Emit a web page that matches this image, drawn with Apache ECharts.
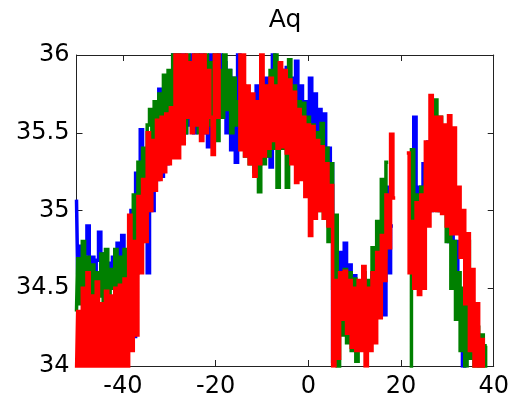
<!DOCTYPE html>
<html>
<head>
<meta charset="utf-8">
<script src="https://cdn.jsdelivr.net/npm/echarts@6/dist/echarts.min.js"></script>
<style>
html,body{margin:0;padding:0;background:#fff;}
#c{width:512px;height:405px;}
</style>
</head>
<body>
<div id="c"></div>
<script>
var title = 'Aq';
var xTicks = [-40, -20, 0, 20, 40];
var yTicks = [34, 34.5, 35, 35.5, 36];

var xs = [
-50,-49.5,-49,-48.5,-48,-47.5,-47,-46.5,-46,-45.5,-45,-44.5,-44,-43.5,-43,-42.5,-42,-41.5,-41,-40.5,
-40,-39.5,-39,-38.5,-38,-37.5,-37,-36.5,-36,-35.5,-35,-34.5,-34,-33.5,-33,-32.5,-32,-31.5,-31,-30.5,
-30,-29.5,-29,-28.5,-28,-27.5,-27,-26.5,-26,-25.5,-25,-24.5,-24,-23.5,-23,-22.5,-22,-21.5,-21,-20.5,
-20,-19.5,-19,-18.5,-18,-17.5,-17,-16.5,-16,-15.5,-15,-14.5,-14,-13.5,-13,-12.5,-12,-11.5,-11,-10.5,
-10,-9.5,-9,-8.5,-8,-7.5,-7,-6.5,-6,-5.5,-5,-4.5,-4,-3.5,-3,-2.5,-2,-1.5,-1,-0.5,
0,0.5,1,1.5,2,2.5,3,3.5,4,4.5,5,5.5,6,6.5,7,7.5,8,8.5,9,9.5,
10,10.5,11,11.5,12,12.5,13,13.5,14,14.5,15,15.5,16,16.5,17,17.5,18,18.5,19,19.5,
20,20.5,21,21.5,22,22.5,23,23.5,24,24.5,25,25.5,26,26.5,27,27.5,28,28.5,29,29.5,
30,30.5,31,31.5,32,32.5,33,33.5,34,34.5,35,35.5,36,36.5,37,37.5,38,38.5
];

var blue = [
35.07,34.6,34.77,34.55,34.72,34.9,34.5,34.7,34.55,34.68,34.86,34.5,34.72,34.55,34.66,34.5,34.7,34.55,34.79,34.5,
34.84,34.1,34.6,34.3,35.0,34.19,35.24,34.7,35.52,34.9,35.1,34.6,35.15,35.0,35.5,35.2,35.78,35.22,35.6,35.3,
35.85,35.4,36.1,35.57,36.1,35.6,36.05,35.5,35.95,35.55,36.1,35.5,35.9,35.6,36.1,35.5,35.85,35.41,36.05,35.55,
35.9,35.6,36.1,35.7,35.95,35.5,35.9,35.39,35.85,35.31,36.05,35.5,35.8,35.45,35.75,35.5,35.7,35.4,35.8,35.45,
35.75,35.4,35.85,35.35,35.28,36.1,35.5,35.95,35.5,35.9,35.6,35.92,35.5,35.85,35.5,35.96,35.45,35.8,35.4,35.7,
35.5,35.85,35.3,35.75,35.2,35.65,35.1,35.62,35.0,35.4,35.3,34.03,34.67,34.3,34.73,34.35,34.79,34.3,34.65,34.2,
34.58,34.2,34.5,34.25,34.55,34.2,34.5,34.3,34.6,34.35,34.75,34.4,34.9,34.33,35.15,34.6,34.9,null,null,null,
null,null,null,null,34.9,35.3,35.6,34.95,35.15,34.85,35.3,35.03,35.44,35.0,35.5,35.05,35.45,35.0,35.3,35.0,
35.4,34.8,34.9,34.63,34.8,34.44,34.4,34.0,33.9,null,null,null,null,null,null,null,null,null
];

var green = [
34.35,34.69,34.4,34.8,34.35,34.7,34.4,34.65,34.3,34.6,34.45,34.72,34.4,34.75,34.45,34.62,34.5,34.75,34.45,34.7,
34.5,34.75,34.45,34.8,34.41,35.1,34.6,35.31,34.8,35.4,35.0,35.55,35.65,35.2,35.7,35.25,35.75,35.3,35.87,35.4,
35.9,35.45,36.1,35.5,36.1,35.55,35.9,35.5,36.1,35.6,35.95,35.55,36.05,35.5,35.9,35.6,36.1,35.55,35.95,35.6,
36.05,35.45,35.9,35.6,36.1,35.65,35.9,35.5,35.85,35.55,35.7,35.4,35.8,35.35,35.7,35.3,35.65,35.25,35.6,35.12,
35.5,35.3,35.8,35.35,35.9,35.4,36.05,35.15,35.9,35.4,35.85,35.15,35.97,35.35,35.8,35.3,35.7,35.25,35.69,35.2,
35.6,35.1,35.55,35.05,35.5,35.0,35.56,34.95,35.4,34.8,35.3,34.5,34.97,33.98,34.55,34.2,34.62,34.15,34.6,34.1,
34.56,34.03,34.5,34.2,34.6,34.15,34.55,34.3,34.76,34.35,34.93,34.5,35.2,34.7,35.31,null,null,null,null,null,
null,null,null,null,33.9,35.39,34.8,35.1,34.9,35.15,35.0,35.25,35.0,35.4,35.05,35.71,35.0,35.6,35.05,35.3,
34.8,35.2,34.5,34.8,34.3,34.6,34.1,34.5,34.0,34.8,34.05,34.4,34.0,34.25,33.98,34.2,33.98,34.13
];

var red = [
33.95,34.35,33.95,34.5,33.95,34.6,33.95,34.45,33.95,34.54,33.95,34.4,33.95,34.48,33.95,34.45,33.95,34.5,33.95,34.52,
33.95,34.56,33.98,34.97,34.1,34.8,34.2,35.09,34.6,35.2,34.8,35.5,35.0,35.45,35.13,35.58,35.2,35.6,35.25,35.62,
35.3,35.66,35.34,36.1,35.34,36.05,35.43,36.1,35.6,35.95,35.5,36.1,35.55,36.05,35.45,36.1,35.5,35.9,35.6,35.36,
36.1,35.6,36.3,36.3,36.2,36.3,36.15,36.3,36.2,36.3,36.2,35.39,36.05,35.35,35.8,35.3,35.75,35.22,35.7,35.3,
36.05,35.35,35.8,35.4,35.85,35.45,35.8,35.4,35.95,35.41,35.9,35.37,35.84,35.3,35.76,35.18,35.65,35.2,35.6,35.09,
35.55,34.84,35.54,34.95,35.45,35.0,35.41,34.95,35.3,34.9,35.16,34.0,34.55,34.05,34.6,34.3,34.61,34.21,34.55,34.12,
34.5,34.1,34.55,34.1,34.64,34.0,34.5,34.1,34.6,34.15,34.73,34.31,34.84,34.55,35.1,34.76,35.49,35.08,null,null,
null,null,null,35.37,34.6,34.93,34.5,35.05,34.46,35.1,34.5,35.44,34.9,35.74,35.0,35.6,35.0,35.6,34.98,35.55,
34.9,35.61,34.85,35.53,34.85,35.15,34.7,35.0,34.4,34.85,34.1,34.62,33.98,34.4,33.98,34.17,33.95,null
];

function pairs(ys) {
  var out = [];
  for (var i = 0; i < xs.length; i++) out.push([xs[i], ys[i]]);
  return out;
}

var FONT = 'DejaVu Sans';
var axisColor = '#222';

var chart = echarts.init(document.getElementById('c'), null, {renderer: 'canvas'});
function lineSeries(name, ys, color) {
  return {
    name: name, type: 'line', data: pairs(ys), showSymbol: false, symbol: 'none',
    step: 'middle',
    connectNulls: false, clip: true, animation: false,
    lineStyle: {color: color, width: 3.5, join: 'miter'},
    emphasis: {disabled: true}
  };
}
chart.setOption({
  animation: false,
  backgroundColor: '#fff',
  graphic: [{
    type: 'text', x: 285, y: 8,
    style: {text: title, fontFamily: FONT, fontSize: 25, fill: '#000', align: 'center', verticalAlign: 'top'}
  }],
  grid: {left: 76.5, right: 17, top: 55, bottom: 39, containLabel: false},
  xAxis: [{
    type: 'value', min: -50, max: 40, position: 'bottom',
    axisLine: {show: true, onZero: false, lineStyle: {color: axisColor, width: 1}},
    axisTick: {show: true, inside: true, length: 6, customValues: xTicks, lineStyle: {color: axisColor}},
    axisLabel: {show: true, customValues: xTicks, margin: 9, fontFamily: FONT, fontSize: 24, color: '#000'},
    splitLine: {show: false}
  }, {
    type: 'value', min: -50, max: 40, position: 'top',
    axisLine: {show: true, onZero: false, lineStyle: {color: axisColor, width: 1}},
    axisTick: {show: true, inside: true, length: 6, customValues: xTicks, lineStyle: {color: axisColor}},
    axisLabel: {show: false},
    splitLine: {show: false}
  }],
  yAxis: [{
    type: 'value', min: 34, max: 36, position: 'left',
    axisLine: {show: true, onZero: false, lineStyle: {color: axisColor, width: 1}},
    axisTick: {show: true, inside: true, length: 6, customValues: yTicks, lineStyle: {color: axisColor}},
    axisLabel: {show: true, customValues: yTicks, margin: 7, fontFamily: FONT, fontSize: 24, color: '#000'},
    splitLine: {show: false}
  }, {
    type: 'value', min: 34, max: 36, position: 'right',
    axisLine: {show: true, onZero: false, lineStyle: {color: axisColor, width: 1}},
    axisTick: {show: true, inside: true, length: 6, customValues: yTicks, lineStyle: {color: axisColor}},
    axisLabel: {show: false},
    splitLine: {show: false}
  }],
  series: [
    lineSeries('blue', blue, '#0000ff'),
    lineSeries('green', green, '#008000'),
    lineSeries('red', red, '#ff0000')
  ]
});
</script>
</body>
</html>
